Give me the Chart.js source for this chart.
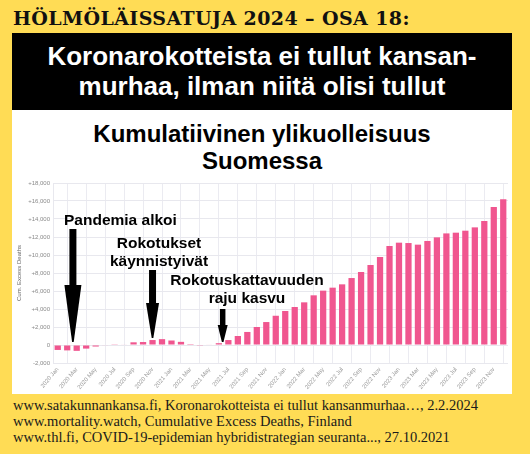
<!DOCTYPE html>
<html>
<head>
    <title>Kumulatiivinen ylikuolleisuus Suomessa</title>
    <script src="https://cdn.jsdelivr.net/npm/chart.js"></script>
    <style>
        body {
            margin: 0;
            width: 530px;
            height: 454px;
            background-color: #ffdc55;
            position: relative;
            overflow: hidden;
        }
        .header {
            position: absolute;
            left: 13px;
            top: 4px;
            font-family: "DejaVu Serif", serif;
            font-weight: bold;
            font-size: 19px;
            letter-spacing: 0.4px;
            line-height: 28px;
            color: #111;
            white-space: nowrap;
        }
        .blackbox {
            position: absolute;
            left: 12px;
            top: 33px;
            width: 500px;
            height: 77px;
            background: #000;
        }
        .blackbox div {
            position: absolute;
            left: 0;
            top: 8px;
            width: 100%;
            text-align: center;
            color: #fff;
            font-family: "Liberation Sans", Arial, sans-serif;
            font-weight: bold;
            font-size: 26px;
            line-height: 30px;
        }
        .panel {
            position: absolute;
            left: 12px;
            top: 110px;
            width: 500px;
            height: 284px;
            background: #fff;
        }
        .title {
            position: absolute;
            left: 12px;
            top: 120px;
            width: 500px;
            text-align: center;
            font-family: "Liberation Sans", Arial, sans-serif;
            font-weight: bold;
            font-size: 24px;
            line-height: 27px;
            color: #000;
        }
        .chartbox {
            position: absolute;
            left: 12px;
            top: 170px;
            width: 500px;
            height: 224px;
        }
        .note {
            position: absolute;
            font-family: "Liberation Sans", Arial, sans-serif;
            font-weight: bold;
            font-size: 15.5px;
            line-height: 18px;
            color: #000;
            white-space: nowrap;
            text-align: center;
        }
        .sources {
            position: absolute;
            left: 13px;
            top: 397px;
            font-family: "Liberation Serif", serif;
            font-size: 14.5px;
            line-height: 16px;
            color: #1a1a1a;
            white-space: nowrap;
        }
    </style>
</head>
<body>

<div class="header">HÖLMÖLÄISSATUJA 2024 – OSA 18:</div>
<div class="blackbox"><div>Koronarokotteista ei tullut kansan-<br>murhaa, ilman niitä olisi tullut</div></div>
<div class="panel"></div>
<div class="title">Kumulatiivinen ylikuolleisuus<br>Suomessa</div>
<div class="chartbox"><canvas id="excessChart" width="500" height="224"></canvas></div>

<div class="note" style="left:64px; top:211px; text-align:left;">Pandemia alkoi</div>
<div class="note" style="left:99px; top:234px; width:120px;">Rokotukset<br>käynnistyivät</div>
<div class="note" style="left:167px; top:271px; width:160px;">Rokotuskattavuuden<br>raju kasvu</div>

<div class="sources">
    www.satakunnankansa.fi, Koronarokotteista ei tullut kansanmurhaa…, 2.2.2024<br>
    www.mortality.watch, Cumulative Excess Deaths, Finland<br>
    www.thl.fi, COVID-19-epidemian hybridistrategian seuranta..., 27.10.2021
</div>

<script>
    // kuukaudet 2020 Jan - 2023 Dec
    const years = [2020, 2021, 2022, 2023];
    const monthNames = ['Jan', 'Feb', 'Mar', 'Apr', 'May', 'Jun', 'Jul', 'Aug', 'Sep', 'Oct', 'Nov', 'Dec'];
    const months = [];
    years.forEach(y => monthNames.forEach(m => months.push(y + ' ' + m)));

    // kumulatiivinen ylikuolleisuus (arvioitu kuvasta)
    const cumExcess = [
        -550, -600, -650, -400, -170, -50, 30, 50, 300, 330, 550, 650,
        500, 350, 100, -30, 50, 200, 550, 1000, 1450, 2000, 2550, 3250,
        3780, 4220, 4740, 5520, 6040, 6370, 6740, 7440, 8110, 8890, 9780, 11000,
        11370, 11330, 11150, 11560, 11960, 12400, 12480, 12700, 13070, 13780, 15330, 16200
    ];

    const yMin = -2000;
    const yMax = 18000;
    const yStep = 2000;

    // nuolet: kohta kuukausi-indeksinä, pystysuunta sivun pikseleinä
    const arrows = [
        { at: 1.6, top: 229, head: 285, tip: 342, shaft: 7, width: 17 },
        { at: 10, top: 270, head: 303, tip: 338, shaft: 7, width: 13 },
        { at: 17.4, top: 309, head: 325, tip: 342, shaft: 5.5, width: 10 }
    ];
    const canvasTop = 170;

    const arrowPlugin = {
        id: 'arrows',
        afterDraw(chart) {
            const ctx = chart.ctx;
            const xs = chart.scales.x;
            ctx.save();
            ctx.fillStyle = '#000';
            arrows.forEach(a => {
                const i = Math.floor(a.at);
                const f = a.at - i;
                const x = xs.getPixelForValue(i) * (1 - f) + xs.getPixelForValue(i + 1) * f;
                const top = a.top - canvasTop, head = a.head - canvasTop, tip = a.tip - canvasTop;
                ctx.fillRect(x - a.shaft / 2, top, a.shaft, head - top + 1);
                ctx.beginPath();
                ctx.moveTo(x - a.width / 2, head);
                ctx.lineTo(x + a.width / 2, head);
                ctx.lineTo(x + 0.8, tip);
                ctx.lineTo(x - 0.8, tip);
                ctx.closePath();
                ctx.fill();
            });
            ctx.restore();
        }
    };

    const ctx = document.getElementById('excessChart').getContext('2d');
    const excessChart = new Chart(ctx, {
        type: 'bar',
        data: {
            labels: months,
            datasets: [{
                label: 'Cum. Excess Deaths',
                data: cumExcess,
                backgroundColor: '#f0568f',
                borderWidth: 0,
                categoryPercentage: 1,
                barPercentage: 0.66
            }]
        },
        options: {
            responsive: false,
            animation: false,
            layout: { padding: { top: 13, right: 4, left: 0, bottom: 0 } },
            plugins: {
                legend: { display: false },
                tooltip: { enabled: false }
            },
            scales: {
                x: {
                    afterFit(scale) { scale.height = 31; },
                    grid: {
                        offset: false,
                        drawTicks: false,
                        color: c => (c.index % 2 === 1 ? '#ebebf1' : 'rgba(0,0,0,0)')
                    },
                    border: { display: false },
                    ticks: {
                        autoSkip: false,
                        minRotation: 50,
                        maxRotation: 50,
                        padding: 3,
                        color: '#9a9a9a',
                        font: { size: 6, family: 'Liberation Sans' },
                        callback: function (value, index) {
                            return index % 2 === 0 ? this.getLabelForValue(value) : '';
                        }
                    }
                },
                y: {
                    min: yMin,
                    max: yMax,
                    afterFit(scale) { scale.width = 41; },
                    grid: { drawTicks: false, color: '#e8e8ee' },
                    border: { color: '#e8e8ee' },
                    ticks: {
                        stepSize: yStep,
                        padding: 3,
                        color: '#8a8a8a',
                        font: { size: 6, family: 'Liberation Sans' },
                        callback: v => (v > 0 ? '+' : '') + v.toLocaleString('en-US')
                    },
                    title: {
                        display: true,
                        text: 'Cum. Excess Deaths',
                        color: '#666',
                        font: { size: 6, family: 'Liberation Sans' },
                        padding: { top: 4, bottom: 0 }
                    }
                }
            }
        },
        plugins: [arrowPlugin]
    });
</script>

</body>
</html>
